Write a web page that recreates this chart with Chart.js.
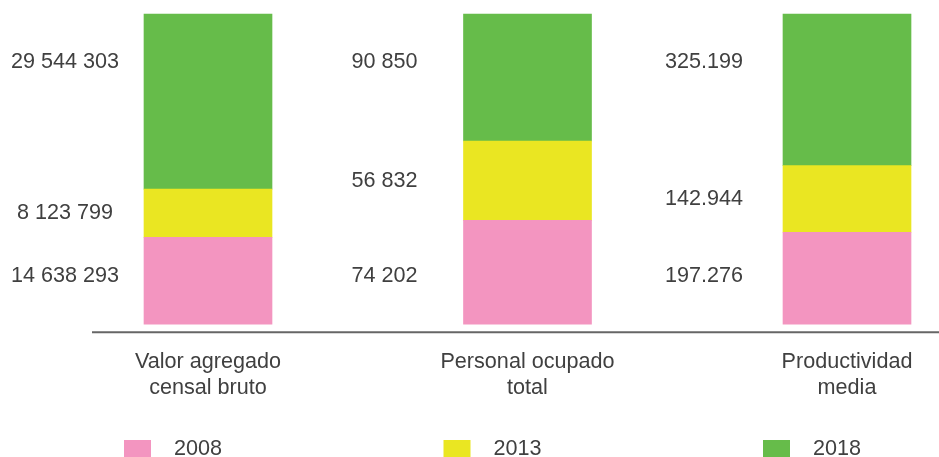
<!DOCTYPE html>
<html>
<head>
<meta charset="utf-8">
<script src="https://cdn.jsdelivr.net/npm/chart.js@4"></script>
<style>
  html, body { margin: 0; padding: 0; background: #fff; }
  #wrap { position: relative; width: 939px; height: 457px; }
</style>
</head>
<body>
<div id="wrap"><canvas id="c" width="939" height="457"></canvas></div>
<script>
const categories = [
  ['Valor agregado', 'censal bruto'],
  ['Personal ocupado', 'total'],
  ['Productividad', 'media']
];
const seriesNames = ['2008', '2013', '2018'];
const v2008 = [14638293, 74202, 197.276];
const v2013 = [8123799, 56832, 142.944];
const v2018 = [29544303, 90850, 325.199];
const colors = ['#F395C0', '#EAE622', '#66BC4A'];

const series = [v2008, v2013, v2018];
const totals = categories.map((_, i) => series.reduce((s, arr) => s + arr[i], 0));

function fmt(v, i) {
  if (i === 2) return v.toFixed(3);
  return String(Math.round(v)).replace(/\B(?=(\d{3})+(?!\d))/g, ' ');
}

const textColor = '#404040';
const fontFamily = "'Liberation Sans', Arial, sans-serif";
const fontSize = 21.6;

// value labels left of each bar, axis line and legend
const decor = {
  id: 'decor',
  afterDraw(chart) {
    const ctx = chart.ctx;
    const x = chart.scales.x;
    const y = chart.scales.y;
    const area = chart.chartArea;
    ctx.save();
    ctx.font = fontSize + 'px ' + fontFamily;
    ctx.fillStyle = textColor;
    ctx.textAlign = 'center';
    ctx.textBaseline = 'middle';
    categories.forEach((_, i) => {
      const cx = x.getPixelForValue(i) - 143;
      const p0 = series[0][i] / totals[i] * 100;
      const p1 = series[1][i] / totals[i] * 100;
      ctx.fillText(fmt(series[0][i], i), cx, y.getPixelForValue(15.5));
      ctx.fillText(fmt(series[1][i], i), cx, y.getPixelForValue(p0 + p1 / 2));
      ctx.fillText(fmt(series[2][i], i), cx, y.getPixelForValue(84.6));
    });
    // axis line
    ctx.strokeStyle = '#666666';
    ctx.lineWidth = 2;
    ctx.beginPath();
    ctx.moveTo(x.getPixelForValue(0) - 116, area.bottom + 8);
    ctx.lineTo(chart.width, area.bottom + 8);
    ctx.stroke();
    // legend
    ctx.textAlign = 'left';
    seriesNames.forEach((name, i) => {
      const lx = x.getPixelForValue(i) - 84;
      ctx.fillStyle = colors[i];
      ctx.fillRect(lx, 440, 27, 17);
      ctx.fillStyle = textColor;
      ctx.fillText(name, lx + 50, 449);
    });
    ctx.restore();
  }
};

new Chart(document.getElementById('c'), {
  type: 'bar',
  data: {
    labels: categories,
    datasets: seriesNames.map((name, k) => ({
      label: name,
      data: series[k].map((v, i) => v / totals[i] * 100),
      backgroundColor: colors[k],
      borderWidth: 0,
      barThickness: 128,
      clip: false
    }))
  },
  options: {
    responsive: false,
    animation: false,
    devicePixelRatio: 1,
    layout: { padding: { left: 208, right: 92, top: 14, bottom: 31 } },
    plugins: { legend: { display: false }, tooltip: { enabled: false } },
    scales: {
      x: {
        stacked: true,
        offset: false,
        grid: { display: false, drawTicks: false },
        border: { display: false },
        ticks: {
          padding: 25,
          maxRotation: 0,
          autoSkip: false,
          color: textColor,
          font: { size: fontSize, family: fontFamily, lineHeight: 1.2 }
        }
      },
      y: {
        stacked: true,
        display: false,
        min: 0,
        max: 100
      }
    }
  },
  plugins: [decor]
});
</script>
</body>
</html>
